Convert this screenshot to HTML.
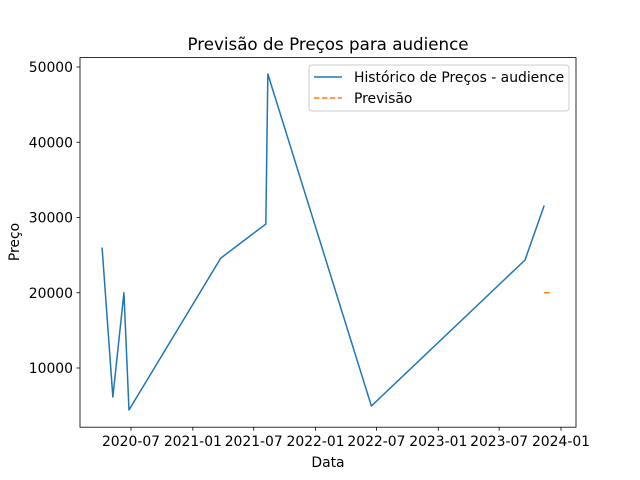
<!DOCTYPE html>
<html><head><meta charset="utf-8"><style>
body{margin:0;background:#fff}
svg{display:block;font-family:"DejaVu Sans","Liberation Sans",sans-serif}
</style></head><body>
<svg id="chart" width="640" height="480"></svg>
<script>
const histDates=["2020-04-06","2020-05-08","2020-06-10","2020-06-25","2021-03-25","2021-08-06","2021-08-12","2022-06-16","2023-09-16","2023-11-12"];
const histValues=[26000,6150,20000,4420,24600,29130,49070,4950,24350,31600];
const forecastDates=["2023-11-12","2023-12-06"];
const forecastValues=[20000,20000];
const xTickLabels=["2020-07","2021-01","2021-07","2022-01","2022-07","2023-01","2023-07","2024-01"];
const yTickValues=[10000,20000,30000,40000,50000];

const NS="http://www.w3.org/2000/svg";
const svg=document.getElementById('chart');
const L=80,R=576,T=57.6,B=427.2;
const day=s=>Date.parse(s)/86400000;
const x0=day("2020-07-01"),x1=day("2024-01-01");
const X=s=>131+(day(s)-x0)*(561-131)/(x1-x0);
const Y=v=>443.25-v*0.007525;
function el(tag,attrs,parent){const e=document.createElementNS(NS,tag);for(const k in attrs)e.setAttribute(k,attrs[k]);(parent||svg).appendChild(e);return e;}

const frame=el('rect',{x:L,y:T,width:R-L,height:B-T,fill:'none',stroke:'#000','stroke-width':0.8});



xTickLabels.forEach(t=>{
  const x=X(t+"-01");
  const tk=el('line',{x1:x,x2:x,y1:B,y2:B+3.5,stroke:'#000','stroke-width':0.8});
  
  
  const tx=el('text',{x:x,y:B+19,'font-size':13.9,'text-anchor':'middle'});
  tx.textContent=t;
  
  
});
yTickValues.forEach(v=>{
  const y=Y(v);
  const tk=el('line',{x1:L-3.5,x2:L,y1:y,y2:y,stroke:'#000','stroke-width':0.8});
  
  
  const tx=el('text',{x:L-7,y:y+5,'font-size':13.9,'text-anchor':'end'});
  tx.textContent=String(v);
  
  
});

const hist=el('polyline',{points:histDates.map((d,i)=>X(d)+','+Y(histValues[i])).join(' '),fill:'none',stroke:'#1f77b4','stroke-width':1.5,'stroke-linejoin':'round'});


const fc=el('polyline',{points:forecastDates.map((d,i)=>X(d)+','+Y(forecastValues[i])).join(' '),fill:'none',stroke:'#ff7f0e','stroke-width':1.5,'stroke-dasharray':'5.5,2.4'});



const title=el('text',{x:328,y:50,'font-size':16.7,'text-anchor':'middle'});
title.textContent='Previsão de Preços para audience';


const xt=el('text',{x:328,y:467,'font-size':13.9,'text-anchor':'middle'});
xt.textContent='Data';


const yt=el('text',{x:19,y:242,'font-size':13.9,'text-anchor':'middle',transform:'rotate(-90 19 242)'});
yt.textContent='Preço';



const lg=el('g',{});


el('rect',{x:309,y:65,width:260,height:46,rx:3,fill:'#fff','fill-opacity':0.8,stroke:'#ccc'},lg);
const e1=el('g',{},lg);


el('line',{x1:314,x2:342,y1:77,y2:77,stroke:'#1f77b4','stroke-width':1.5},e1);
const t1=el('text',{x:354,y:82,'font-size':13.9},e1);t1.textContent='Histórico de Preços - audience';
const e2=el('g',{},lg);


el('line',{x1:314,x2:342,y1:98,y2:98,stroke:'#ff7f0e','stroke-width':1.5,'stroke-dasharray':'5.5,2.4'},e2);
const t2=el('text',{x:354,y:103,'font-size':13.9},e2);t2.textContent='Previsão';
</script>
</body></html>
